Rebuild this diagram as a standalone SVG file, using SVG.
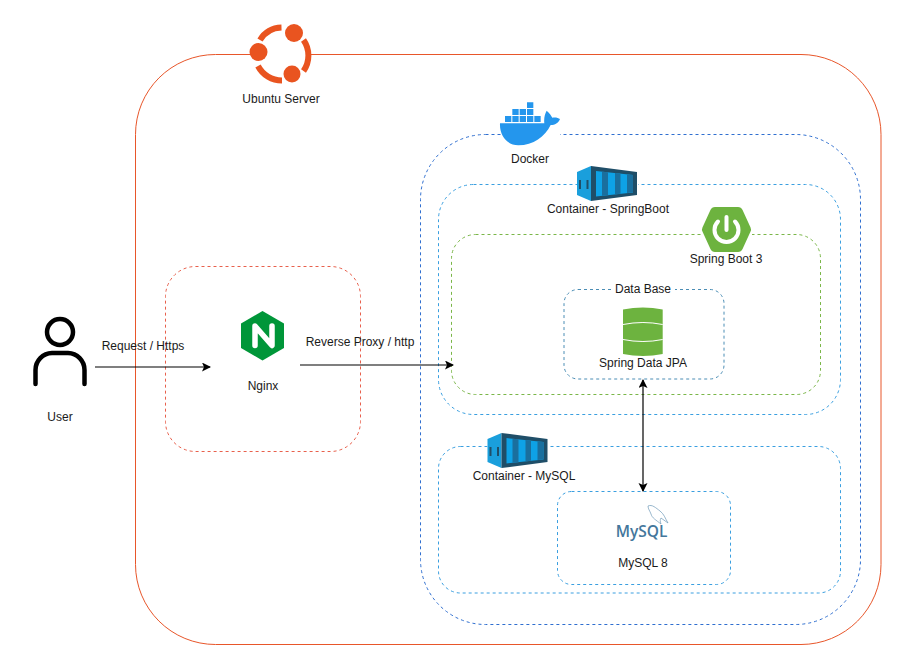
<svg xmlns="http://www.w3.org/2000/svg" xmlns:xlink="http://www.w3.org/1999/xlink" width="906" height="671" viewBox="0 0 906 671">
<style>
text{font-family:"Liberation Sans",Arial,sans-serif;font-size:12px;fill:#1a1a1a;text-anchor:middle}
.box{fill:none;stroke-width:1}
.d{stroke-dasharray:3 3}
.conn{fill:none;stroke:#000;stroke-width:1.2}
</style>
<defs>
<marker id="ah" markerUnits="userSpaceOnUse" markerWidth="10" markerHeight="10" refX="8" refY="4.5" orient="auto-start-reverse"><path d="M0 0L9 4.5L0 9L2 4.5Z" fill="#000"/></marker>
<g id="cont">
<rect x="0" y="0" width="61" height="36" fill="#fff"/>
<path d="M0 6L14 0V35L0 29Z" fill="#1a9fdc"/>
<path d="M14 0L60 6V29L14 35Z" fill="#1f4e68"/>
<path d="M19 5L56 9V26.5L19 30.5Z" fill="#0ea2e6"/>
<path d="M25 5.700L31 6.300V29.200L25 29.800ZM38 7L43.500 7.600V27.700L38 28.300ZM50 8.400L56 9V26.500L50 27.100Z" fill="#1a6f9e"/>
<path d="M2 14H4V23H2ZM9.500 14H11.500V23H9.500Z" fill="#1f4e68"/>
</g>
</defs>
<rect width="906" height="671" fill="#fff"/>
<g id="ubuntu-server">
<rect class="box" x="135.500" y="54.500" width="745.500" height="590" rx="80" stroke="#e8562a"/>
<rect x="250" y="45" width="61" height="20" fill="#fff"/>
<g fill="none" stroke="#e95420" stroke-width="6">
<path d="M260 40A26 26 0 0 1 281.500 27.500"/>
<path d="M303.500 40A27 27 0 0 1 303.500 71"/>
<path d="M282 80.500A27 27 0 0 1 258 66"/>
</g>
<g fill="#e95420"><circle cx="294" cy="33" r="9"/><circle cx="258.500" cy="52" r="9"/><circle cx="292" cy="74" r="8.500"/></g>
<text x="281" y="103">Ubuntu Server</text>
</g>
<g id="docker">
<rect class="box d" x="420.500" y="134.500" width="440" height="490" rx="65" stroke="#2f6fd0"/>
<rect x="501" y="100" width="59" height="45" fill="#fff"/>
<g transform="translate(490 95) scale(.3333)" fill="#2496ed">
<path d="M30 85H163C161 70 165 55 170 47C178 54 184 62 187 68C195 66 205 68 210 72C205 85 195 90 182 90C165 125 130 151 85 151C50 151 28 120 30 85Z"/>
<path d="M45 63h19v18h-19zM67 63h19v18h-19zM89 63h19v18h-19zM111 63h19v18h-19zM133 63h19v18h-19zM67 42h19v18h-19zM89 42h19v18h-19zM111 42h19v18h-19zM111 22h19v17h-19z"/>
</g>
<text x="530" y="163">Docker</text>
</g>
<g id="container-springboot">
<rect class="box d" x="438.500" y="184.500" width="402" height="230" rx="35" stroke="#3a9fe0"/>
<use xlink:href="#cont" href="#cont" x="577" y="166"/>
<text x="608" y="213">Container - SpringBoot</text>
</g>
<g id="spring-boot">
<rect class="box d" x="451.500" y="234.500" width="369" height="160" rx="24" stroke="#7ab648"/>
<rect x="702" y="206" width="50" height="46" fill="#fff"/>
<path d="M715 212H738L746 229.500L738 247H715L707 229.500Z" fill="#6db33f" stroke="#6db33f" stroke-width="10" stroke-linejoin="round"/>
<path d="M718 221.500A12 12 0 1 0 735 221.500" fill="none" stroke="#fff" stroke-width="4" stroke-linecap="round"/>
<path d="M726.500 217V230" fill="none" stroke="#fff" stroke-width="4" stroke-linecap="round"/>
<text x="726" y="263">Spring Boot 3</text>
</g>
<g id="data-base">
<rect class="box d" x="564" y="289.500" width="160" height="89.500" rx="14" stroke="#4a8db5"/>
<rect x="612" y="284" width="63" height="10" fill="#fff"/>
<text x="643" y="293">Data Base</text>
<path d="M623 309.500Q643 305.500 662.700 309.500V354Q643 358 623 354Z" fill="#6db33f"/>
<path d="M623 324.500Q643 320.500 662.700 324.500M623 339.500Q643 343.500 662.700 339.500" fill="none" stroke="#fff" stroke-width="1"/>
<text x="643" y="367">Spring Data JPA</text>
</g>
<g id="nginx">
<rect class="box d" x="165.500" y="266.500" width="195" height="185" rx="30" stroke="#e8604c"/>
<rect x="235" y="305" width="55" height="60" fill="#fff"/>
<path d="M262.500 311L284 323.500V348L262.500 360.500L241 348V323.500Z" fill="#009639"/>
<path d="M255 345.500V326L272 345.500V326" fill="none" stroke="#fff" stroke-width="5.500" stroke-linecap="round" stroke-linejoin="round"/>
<text x="263" y="390">Nginx</text>
</g>
<g id="user">
<circle cx="60" cy="332" r="13" fill="none" stroke="#000" stroke-width="4.500"/>
<path d="M35.500 384V370A17 17 0 0 1 52 353H68A17 17 0 0 1 84.500 370V384" fill="none" stroke="#000" stroke-width="4.500" stroke-linecap="round"/>
<text x="60" y="421">User</text>
</g>
<g id="container-mysql">
<rect class="box d" x="438.500" y="446.500" width="402" height="146.500" rx="22" stroke="#3a9fe0"/>
<use xlink:href="#cont" href="#cont" x="487.500" y="433"/>
<text x="524" y="480">Container - MySQL</text>
</g>
<g id="mysql">
<rect class="box d" x="557.500" y="491.500" width="173" height="93" rx="14" stroke="#3a9fe0"/>
<path d="M648 506C652 504 656 508 660 511C664 514 665 518 668 523L661 518C660 520 660 521 661 524C656 520 652 518 651 514C650 511 648 509 648 506Z" fill="none" stroke="#6f9ab8" stroke-width=".7"/>
<text x="641.500" y="537" style="font-family:'Open Sans','Liberation Sans',sans-serif;font-size:15.500px;font-weight:600;fill:#44779c">MySQL</text>
<text x="643" y="567">MySQL 8</text>
</g>
<g id="connectors">
<path class="conn" d="M95 367H210" marker-end="url(#ah)"/>
<path class="conn" d="M300 365H453" marker-end="url(#ah)"/>
<path class="conn" d="M643 380V491" marker-start="url(#ah)" marker-end="url(#ah)"/>
<text x="143" y="350">Request / Https</text>
<text x="360" y="346">Reverse Proxy / http</text>
</g>
</svg>
